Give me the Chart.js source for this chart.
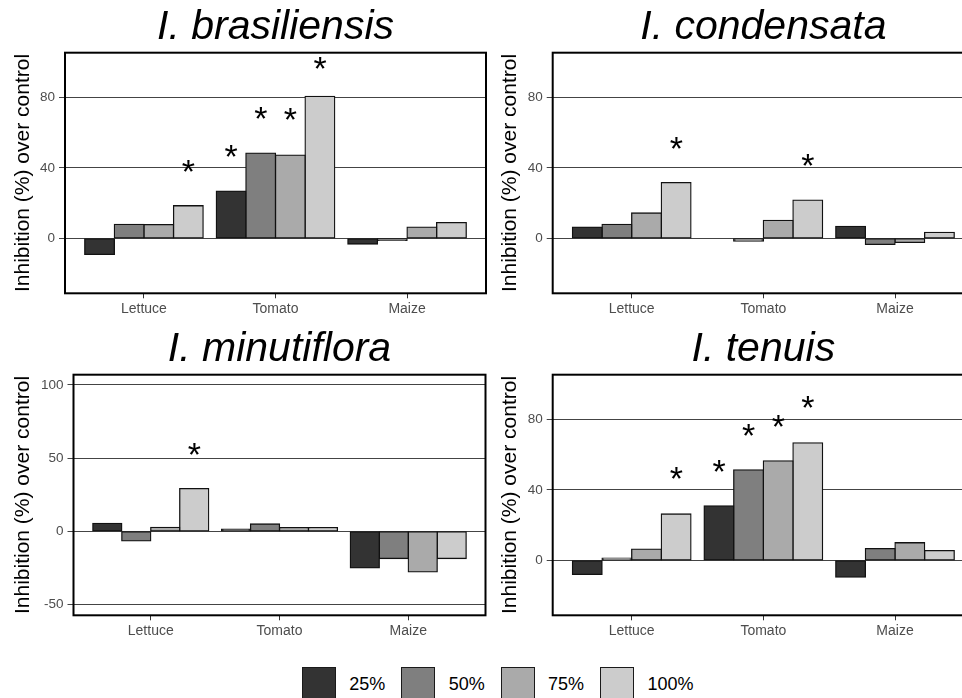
<!DOCTYPE html>
<html>
<head>
<meta charset="utf-8">
<script src="https://cdn.jsdelivr.net/npm/chart.js@4.4.0/dist/chart.umd.min.js"></script>
<style>
html,body{margin:0;padding:0;background:#fff;width:962px;height:698px;overflow:hidden;position:relative;font-family:"Liberation Sans",Arial,sans-serif;}
canvas.panel{position:absolute;}
#legend .key{position:absolute;box-sizing:border-box;border:1.5px solid #1a1a1a;width:34px;height:34px;}
#legend .lab{position:absolute;font-size:18px;line-height:34px;color:#000;white-space:nowrap;}
</style>
</head>
<body>
<canvas id="c1" class="panel" width="490" height="325" style="left:0px;top:0px"></canvas>
<canvas id="c2" class="panel" width="490" height="325" style="left:487px;top:0px"></canvas>
<canvas id="c3" class="panel" width="490" height="325" style="left:0px;top:321.6px"></canvas>
<canvas id="c4" class="panel" width="490" height="325" style="left:487px;top:321.6px"></canvas>
<div id="legend"></div>
<script>
// ---------- data ----------
const categories = ['Lettuce', 'Tomato', 'Maize'];
const seriesLabels = ['25%', '50%', '75%', '100%'];
const seriesColors = ['#333333', '#7f7f7f', '#aaaaaa', '#cccccc'];
const yTicksStd = [0, 40, 80];
const yTicksMin = [-50, 0, 50, 100];

// I. brasiliensis
const bras25  = [-9.1, 26.8, -3.2];
const bras50  = [7.9, 48.4, -1.1];
const bras75  = [7.8, 47.3, 6.4];
const bras100 = [18.5, 80.6, 8.9];
const brasStar25  = [null, 49.5, null];
const brasStar50  = [null, 71.0, null];
const brasStar75  = [null, 70.5, null];
const brasStar100 = [41.0, 99.6, null];

// I. condensata
const cond25  = [6.4, 0.0, 6.8];
const cond50  = [7.9, -1.5, -3.4];
const cond75  = [14.4, 10.2, -2.3];
const cond100 = [31.6, 21.7, 3.4];
const condStar25  = [null, null, null];
const condStar50  = [null, null, null];
const condStar75  = [null, null, null];
const condStar100 = [54.0, 44.4, null];

// I. minutiflora
const minu25  = [5.4, 1.4, -25.0];
const minu50  = [-6.6, 5.0, -18.6];
const minu75  = [2.7, 2.5, -27.7];
const minu100 = [29.1, 2.5, -18.6];
const minuStar25  = [null, null, null];
const minuStar50  = [null, null, null];
const minuStar75  = [null, null, null];
const minuStar100 = [56.4, null, null];

// I. tenuis
const tenu25  = [-8.0, 30.9, -9.5];
const tenu50  = [1.3, 51.4, 6.6];
const tenu75  = [6.4, 56.5, 10.0];
const tenu100 = [26.3, 66.7, 5.5];
const tenuStar25  = [null, 53.7, null];
const tenuStar50  = [null, 74.1, null];
const tenuStar75  = [null, 79.2, null];
const tenuStar100 = [49.5, 89.7, null];

// ---------- drawing ----------
const FAMILY = '"Liberation Sans", Arial, Helvetica, sans-serif';
Chart.defaults.font.family = FAMILY;

const panelDecor = {
  id: 'panelDecor',
  afterDatasetsDraw(chart, args, opts) {
    const ctx = chart.ctx;
    const yScale = chart.scales.y;
    ctx.save();
    ctx.font = '34px ' + FAMILY;
    ctx.fillStyle = '#000';
    ctx.textAlign = 'center';
    ctx.textBaseline = 'alphabetic';
    const m = ctx.measureText('*');
    const dy = (m.actualBoundingBoxAscent - m.actualBoundingBoxDescent) / 2;
    const dx = (m.actualBoundingBoxLeft - m.actualBoundingBoxRight) / 2;
    (opts.stars || []).forEach((arr, di) => {
      const meta = chart.getDatasetMeta(di);
      arr.forEach((v, i) => {
        if (v === null || v === undefined) return;
        const bar = meta.data[i];
        ctx.fillText('*', bar.x + dx, yScale.getPixelForValue(v) + dy);
      });
    });
    ctx.restore();
  },
  afterDraw(chart) {
    const a = chart.chartArea;
    const ctx = chart.ctx;
    ctx.save();
    ctx.strokeStyle = '#000';
    ctx.lineWidth = 2;
    ctx.strokeRect(a.left, a.top, a.right - a.left, a.bottom - a.top);
    ctx.restore();
  }
};

function makePanel(id, title, series, stars, yMin, yMax, yTicks, yAxisWidth, padRight) {
  const datasets = series.map((vals, k) => ({
    label: seriesLabels[k],
    data: vals.map((v, i) => ({x: i, y: v})),
    backgroundColor: seriesColors[k],
    borderColor: '#111',
    borderWidth: 1.3,
    borderSkipped: false,
    inflateAmount: 0.65,
    categoryPercentage: 0.9,
    barPercentage: 1.0
  }));
  return new Chart(document.getElementById(id), {
    type: 'bar',
    data: {datasets},
    plugins: [panelDecor],
    options: {
      responsive: false,
      animation: false,
      devicePixelRatio: 1,
      layout: {padding: {left: 0, right: padRight, top: 0, bottom: 0}},
      plugins: {
        legend: {display: false},
        tooltip: {enabled: false},
        title: {
          display: true, text: title, fullSize: false, color: '#000',
          font: {size: 41, style: 'italic', weight: 'normal', family: FAMILY, lineHeight: 1.2},
          padding: {top: 3, bottom: 0.5}
        },
        panelDecor: {stars}
      },
      scales: {
        x: {
          type: 'linear', min: -0.6, max: 2.6, offset: false,
          afterBuildTicks: s => { s.ticks = categories.map((c, i) => ({value: i})); },
          afterFit: s => { s.height = 31.7; },
          ticks: {color: '#4d4d4d', font: {size: 14}, padding: 2, maxRotation: 0, autoSkip: false,
                  callback: v => categories[v]},
          grid: {drawOnChartArea: false, drawTicks: true, tickLength: 5, color: '#333', offset: false},
          border: {display: false}
        },
        y: {
          min: yMin, max: yMax,
          afterBuildTicks: s => { s.ticks = yTicks.map(v => ({value: v})); },
          afterFit: s => { s.width = yAxisWidth; },
          ticks: {color: '#4d4d4d', font: {size: 13.5}, padding: 4},
          grid: {color: '#444', lineWidth: 1, tickLength: 6, drawTicks: true, drawOnChartArea: true},
          border: {display: false},
          title: {display: true, text: 'Inhibition (%) over control', color: '#000',
                  font: {size: 21, lineHeight: 1.2}, padding: {top: 11, bottom: 0}}
        }
      }
    }
  });
}

makePanel('c1', 'I. brasiliensis', [bras25, bras50, bras75, bras100],
  [brasStar25, brasStar50, brasStar75, brasStar100], -31.2, 105.4, yTicksStd, 65, 4);
makePanel('c2', 'I. condensata', [cond25, cond50, cond75, cond100],
  [condStar25, condStar50, condStar75, condStar100], -31.2, 105.4, yTicksStd, 65.7, 3);
makePanel('c3', 'I. minutiflora', [minu25, minu50, minu75, minu100],
  [minuStar25, minuStar50, minuStar75, minuStar100], -57.4, 107, yTicksMin, 73.5, 4.5);
makePanel('c4', 'I. tenuis', [tenu25, tenu50, tenu75, tenu100],
  [tenuStar25, tenuStar50, tenuStar75, tenuStar100], -31.2, 105.4, yTicksStd, 65.7, 3);

// legend
const legend = document.getElementById('legend');
seriesLabels.forEach((lab, k) => {
  const left = 301.7 + k * 99.4;
  const key = document.createElement('div');
  key.className = 'key';
  key.style.left = left + 'px';
  key.style.top = '666.7px';
  key.style.background = seriesColors[k];
  legend.appendChild(key);
  const t = document.createElement('div');
  t.className = 'lab';
  t.style.left = (left + 47.6) + 'px';
  t.style.top = '666.7px';
  t.textContent = lab;
  legend.appendChild(t);
});
</script>
</body>
</html>
